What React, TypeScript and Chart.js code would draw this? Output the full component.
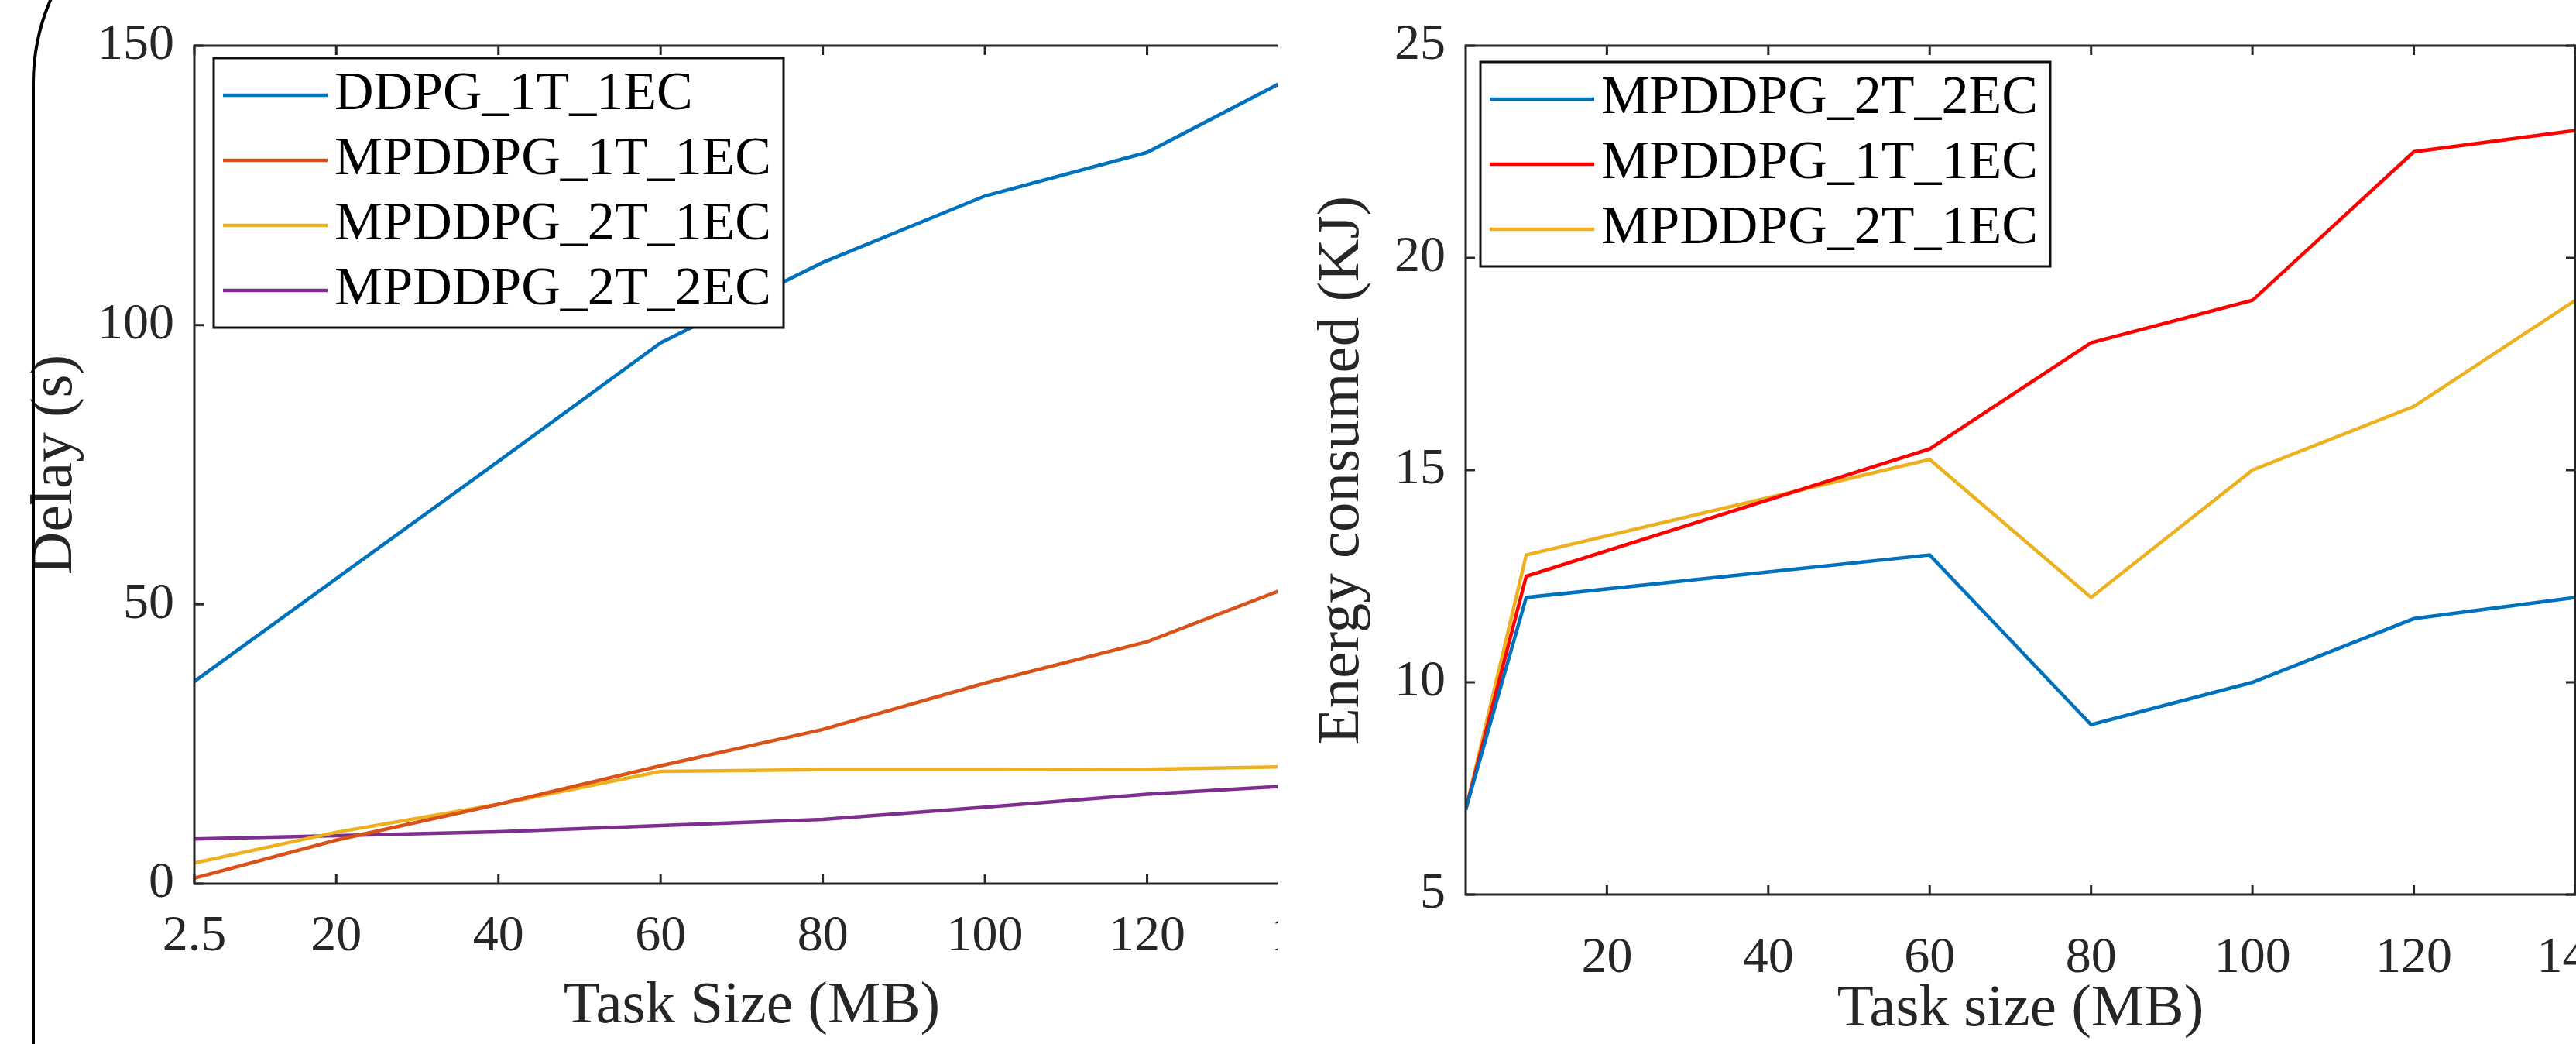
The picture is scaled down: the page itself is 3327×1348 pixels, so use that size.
import React, { useEffect, useRef } from 'react';
import { Chart, registerables } from 'chart.js';

Chart.register(...registerables);

// ---------- Data: Delay chart (left) ----------
const delayX = [2.5, 20, 40, 60, 80, 100, 120, 140];
const delayDDPG_1T_1EC = [36.2, 54.6, 75.6, 96.8, 111.2, 123.1, 130.9, 146];
const delayMPDDPG_1T_1EC = [1, 7.8, 14.2, 21.1, 27.6, 35.9, 43.3, 54.5];
const delayMPDDPG_2T_1EC = [3.7, 9.2, 14.2, 20.1, 20.4, 20.4, 20.5, 21];
const delayMPDDPG_2T_2EC = [8.0, 8.6, 9.3, 10.4, 11.5, 13.7, 16.0, 17.7];
const delayXTicks = [2.5, 20, 40, 60, 80, 100, 120, 140];
const delayYTicks = [0, 50, 100, 150];

// ---------- Data: Energy chart (right) ----------
const energyX = [2.5, 10, 60, 80, 100, 120, 140];
const energyMPDDPG_2T_2EC = [7, 12, 13, 9, 10, 11.5, 12];
const energyMPDDPG_1T_1EC = [7, 12.5, 15.5, 18, 19, 22.5, 23];
const energyMPDDPG_2T_1EC = [7, 13, 15.25, 12, 15, 16.5, 19];
const energyXTicks = [20, 40, 60, 80, 100, 120, 140];
const energyYTicks = [5, 10, 15, 20, 25];

const H = 1348;
const FONT = '"Liberation Serif", "Times New Roman", serif';
const AXIS_COLOR = '#262626';
const LINE_W = 4.5;

const framePlugin = {
  id: 'frameBox',
  afterDraw(chart: any) {
    const { ctx, chartArea: a } = chart;
    const xs = chart.scales.x;
    const ys = chart.scales.y;
    const L = 12;
    ctx.save();
    ctx.strokeStyle = AXIS_COLOR;
    ctx.lineWidth = 3;
    ctx.beginPath();
    for (const t of xs.ticks) {
      const px = xs.getPixelForValue(t.value);
      ctx.moveTo(px, a.bottom);
      ctx.lineTo(px, a.bottom - L);
      ctx.moveTo(px, a.top);
      ctx.lineTo(px, a.top + L);
    }
    for (const t of ys.ticks) {
      const py = ys.getPixelForValue(t.value);
      ctx.moveTo(a.left, py);
      ctx.lineTo(a.left + L, py);
      ctx.moveTo(a.right, py);
      ctx.lineTo(a.right - L, py);
    }
    ctx.stroke();
    ctx.strokeRect(a.left, a.top, a.right - a.left, a.bottom - a.top);
    ctx.restore();
  },
};

const legendBoxPlugin = {
  id: 'legendBox',
  afterDatasetsDraw(chart: any, _args: any, opts: any) {
    const { ctx, chartArea: a } = chart;
    const ds = chart.data.datasets;
    const x0 = a.left + opts.offsetX;
    const y0 = a.top + opts.offsetY;
    const rowH = 84;
    const padV = 48;
    const w = opts.width;
    const h = padV * 2 + rowH * (ds.length - 1);
    ctx.save();
    ctx.fillStyle = '#ffffff';
    ctx.fillRect(x0, y0, w, h);
    ctx.strokeStyle = '#111111';
    ctx.lineWidth = 3;
    ctx.strokeRect(x0, y0, w, h);
    ctx.font = `70px ${FONT}`;
    ctx.textBaseline = 'middle';
    ctx.textAlign = 'left';
    ds.forEach((d: any, i: number) => {
      const cy = y0 + padV + i * rowH;
      ctx.strokeStyle = d.borderColor;
      ctx.lineWidth = LINE_W;
      ctx.beginPath();
      ctx.moveTo(x0 + 12, cy);
      ctx.lineTo(x0 + 147, cy);
      ctx.stroke();
      ctx.fillStyle = '#000000';
      ctx.fillText(d.label, x0 + 156, cy);
    });
    ctx.restore();
  },
};

type Series = { label: string; color: string; values: number[] };

function buildConfig(p: {
  xs: number[];
  series: Series[];
  xMin: number;
  xMax: number;
  yMin: number;
  yMax: number;
  xTicks: number[];
  yTicks: number[];
  xTitle: string;
  yTitle: string;
  canvasW: number;
  area: { left: number; right: number; top: number; bottom: number };
  xTickPad: number;
  xTitlePad: number;
  yTitlePad: number;
  legend: { offsetX: number; offsetY: number; width: number };
}) {
  const tickFont = { family: FONT, size: 66, lineHeight: 1 };
  const titleFont = { family: FONT, size: 77, lineHeight: 1 };
  return {
    type: 'line',
    data: {
      datasets: p.series.map((s) => ({
        label: s.label,
        data: p.xs.map((x, i) => ({ x, y: s.values[i] })),
        borderColor: s.color,
        backgroundColor: s.color,
        borderWidth: LINE_W,
        pointRadius: 0,
        tension: 0,
        fill: false,
      })),
    },
    options: {
      animation: false,
      responsive: false,
      devicePixelRatio: 1,
      layout: {
        padding: { left: 0, top: p.area.top, right: p.canvasW - p.area.right, bottom: 0 },
      },
      plugins: {
        legend: { display: false },
        tooltip: { enabled: false },
        legendBox: p.legend,
      },
      scales: {
        x: {
          type: 'linear',
          min: p.xMin,
          max: p.xMax,
          afterBuildTicks: (s: any) => {
            s.ticks = p.xTicks.map((v) => ({ value: v }));
          },
          afterFit: (s: any) => {
            s.height = H - p.area.bottom;
          },
          grid: { display: false, drawTicks: false },
          border: { display: false },
          ticks: {
            font: tickFont,
            color: AXIS_COLOR,
            padding: p.xTickPad,
            autoSkip: false,
            maxRotation: 0,
            minRotation: 0,
            callback: (v: any) => String(v),
          },
          title: {
            display: true,
            text: p.xTitle,
            font: titleFont,
            color: AXIS_COLOR,
            padding: { top: 0, bottom: p.xTitlePad },
          },
        },
        y: {
          type: 'linear',
          min: p.yMin,
          max: p.yMax,
          afterBuildTicks: (s: any) => {
            s.ticks = p.yTicks.map((v) => ({ value: v }));
          },
          afterFit: (s: any) => {
            s.width = p.area.left;
          },
          grid: { display: false, drawTicks: false },
          border: { display: false },
          ticks: {
            font: tickFont,
            color: AXIS_COLOR,
            padding: 26,
            autoSkip: false,
            callback: (v: any) => String(v),
          },
          title: {
            display: true,
            text: p.yTitle,
            font: titleFont,
            color: AXIS_COLOR,
            padding: { top: p.yTitlePad, bottom: 0 },
          },
        },
      },
    },
    plugins: [legendBoxPlugin, framePlugin],
  };
}

function ChartPanel({ left, canvasW, clipW, config }: { left: number; canvasW: number; clipW: number; config: any }) {
  const ref = useRef<HTMLCanvasElement>(null);
  useEffect(() => {
    const chart = new Chart(ref.current as HTMLCanvasElement, config);
    return () => chart.destroy();
  }, []);
  return (
    <div style={{ position: 'absolute', left, top: 0, width: clipW, height: H, overflow: 'hidden' }}>
      <canvas ref={ref} width={canvasW} height={H} style={{ display: 'block', width: canvasW, height: H }} />
    </div>
  );
}

const LEFT_W = 1780;
const RIGHT_W = 1780;

export default function App() {
  const delayConfig = buildConfig({
    xs: delayX,
    series: [
      { label: 'DDPG_1T_1EC', color: '#0072BD', values: delayDDPG_1T_1EC },
      { label: 'MPDDPG_1T_1EC', color: '#D95319', values: delayMPDDPG_1T_1EC },
      { label: 'MPDDPG_2T_1EC', color: '#EDB120', values: delayMPDDPG_2T_1EC },
      { label: 'MPDDPG_2T_2EC', color: '#7E2F8E', values: delayMPDDPG_2T_2EC },
    ],
    xMin: 2.5,
    xMax: 140,
    yMin: 0,
    yMax: 150,
    xTicks: delayXTicks,
    yTicks: delayYTicks,
    xTitle: 'Task Size (MB)',
    yTitle: 'Delay (s)',
    canvasW: LEFT_W,
    area: { left: 251, right: 1691, top: 52, bottom: 1141 },
    xTickPad: 36,
    xTitlePad: 10,
    yTitlePad: 33,
    legend: { offsetX: 25, offsetY: 16, width: 736 },
  });
  const energyConfig = buildConfig({
    xs: energyX,
    series: [
      { label: 'MPDDPG_2T_2EC', color: '#0072BD', values: energyMPDDPG_2T_2EC },
      { label: 'MPDDPG_1T_1EC', color: '#FF0000', values: energyMPDDPG_1T_1EC },
      { label: 'MPDDPG_2T_1EC', color: '#EDB120', values: energyMPDDPG_2T_1EC },
    ],
    xMin: 2.5,
    xMax: 140,
    yMin: 5,
    yMax: 25,
    xTicks: energyXTicks,
    yTicks: energyYTicks,
    xTitle: 'Task size (MB)',
    yTitle: 'Energy consumed (KJ)',
    canvasW: RIGHT_W,
    area: { left: 243, right: 1676, top: 58, bottom: 1155 },
    xTickPad: 50,
    xTitlePad: 6,
    yTitlePad: 45,
    legend: { offsetX: 19, offsetY: 21, width: 736 },
  });

  return (
    <div
      style={{
        position: 'absolute',
        left: 0,
        top: 0,
        width: 3327,
        height: H,
        overflow: 'hidden',
        background: '#ffffff',
      }}
    >
      <ChartPanel left={0} canvasW={LEFT_W} clipW={1650} config={delayConfig} />
      <ChartPanel left={1650} canvasW={RIGHT_W} clipW={RIGHT_W} config={energyConfig} />
      <div
        style={{
          position: 'absolute',
          left: 41,
          top: -164,
          width: 700,
          height: H + 400,
          borderLeft: '4px solid #000',
          borderTop: '4px solid #000',
          borderTopLeftRadius: 271,
          boxSizing: 'border-box',
          pointerEvents: 'none',
        }}
      />
    </div>
  );
}
